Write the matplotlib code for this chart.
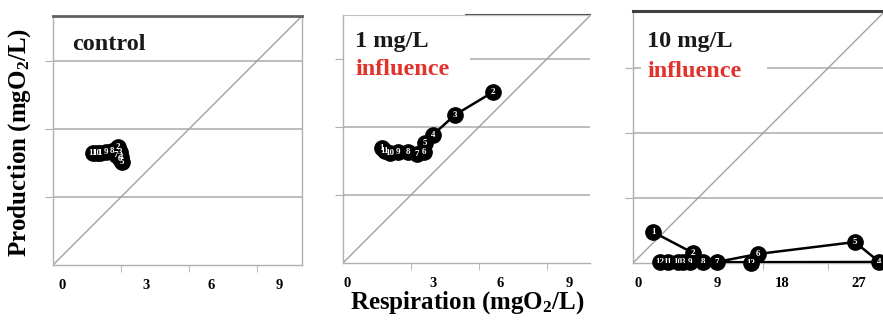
import matplotlib.pyplot as plt
from matplotlib.patches import Rectangle

plt.rcParams['font.family'] = ['Liberation Serif', 'DejaVu Serif']
plt.rcParams['font.weight'] = 'bold'
plt.rcParams['mathtext.default'] = 'regular'

# control panel (points numbered 1..11)
ctrl_resp = [2.07, 2.87, 2.95, 3.0, 3.04, 2.95, 2.78, 2.6, 2.34, 1.95, 1.76]
ctrl_prod = [4.94, 5.2, 4.98, 4.76, 4.54, 4.7, 4.85, 5.05, 4.98, 4.94, 4.94]

# 1 mg/L panel
mg1_resp = [1.72, 6.62, 4.94, 3.97, 3.62, 3.57, 3.26, 2.87, 2.43, 2.07, 1.85]
mg1_prod = [5.07, 7.54, 6.53, 5.65, 5.29, 4.9, 4.81, 4.9, 4.9, 4.85, 4.94]

# 10 mg/L panel
mg10_resp = [2.77, 8.31, 6.9, 34.1, 30.7, 17.3, 11.6, 9.7, 7.9, 6.2, 4.8, 3.7, 16.3]
mg10_prod = [4.29, 1.39, 0.1, 0.14, 2.9, 1.25, 0.14, 0.14, 0.14, 0.14, 0.14, 0.14, 0.05]

tick_labels_small = ['0', '3', '6', '9']
tick_labels_big = ['0', '9', '18', '27']

fig = plt.figure(figsize=(8.83, 3.25), dpi=100)

ax1 = fig.add_axes([0.0600, 0.1846, 0.2820, 0.7662])
ax2 = fig.add_axes([0.3884, 0.1908, 0.2797, 0.7631])
ax3 = fig.add_axes([0.7169, 0.1908, 0.2831, 0.7754])


def setup(ax, lim, step, label_pos, labels):
    ax.set_xlim(0, lim[0])
    ax.set_ylim(0, lim[1])
    ax.set_axisbelow(True)
    ax.set_xticks(label_pos, labels)
    ax.set_xticks([step, 2 * step, 3 * step], minor=True)
    ax.set_yticks([step, 2 * step, 3 * step])
    ax.set_yticklabels([])
    ax.tick_params(axis='x', which='major', length=0, pad=10, labelsize=10.5)
    ax.tick_params(axis='x', which='minor', length=5, color='#b0b0b0', direction='out')
    ax.tick_params(axis='y', length=6, color='#b0b0b0', direction='out')
    ax.yaxis.grid(True, color='#b8b8b8', linewidth=1.3)
    top = max(lim)
    ax.plot([0, top], [0, top], color='#a0a0a0', linewidth=1.0, zorder=1)
    for side in ['left', 'bottom', 'right']:
        ax.spines[side].set_color('#b0b0b0')
        ax.spines[side].set_linewidth(1.0)


def draw_series(ax, xs, ys, start=0):
    ax.plot(xs[start:], ys[start:], color='black', linewidth=1.8, zorder=3)
    ax.plot(xs, ys, 'o', color='black', markersize=11, zorder=3, clip_on=False)
    for i, (x, y) in enumerate(zip(xs, ys)):
        ax.text(x, y, str(i + 1), color='white', fontsize=6.5, ha='center',
                va='center', zorder=4, clip_on=True)


# control
setup(ax1, (10.99, 10.99), 3, [0.4, 4.1, 7.0, 10.0], tick_labels_small)
ax1.spines['top'].set_color('#606060')
ax1.spines['top'].set_linewidth(2.0)
draw_series(ax1, ctrl_resp, ctrl_prod)
ax1.text(0.076, 0.863, 'control', transform=ax1.transAxes, fontsize=17.5,
         color='#1a1a1a', zorder=6)

# 1 mg/L
setup(ax2, (10.9, 10.94), 3, [0.18, 3.97, 6.93, 9.97], tick_labels_small)
ax2.spines['right'].set_visible(False)
ax2.spines['top'].set_color('#c0c0c0')
ax2.axhline(10.94, xmin=0.5, xmax=1.0, color='#505050', linewidth=1.5, clip_on=False)
ax2.add_patch(Rectangle((0.0, 0.72), 0.514, 0.27, transform=ax2.transAxes,
                        facecolor='white', edgecolor='none', zorder=2))
draw_series(ax2, mg1_resp, mg1_prod, start=1)
ax2.text(0.049, 0.871, '1 mg/L', transform=ax2.transAxes, fontsize=17.5,
         color='#1a1a1a', zorder=6)
ax2.text(0.049, 0.758, 'influence', transform=ax2.transAxes, fontsize=17.5,
         color='#e2322c', zorder=6)

# 10 mg/L
setup(ax3, (34.6, 34.9), 9, [0.7, 11.6, 20.6, 31.2], tick_labels_big)
ax3.spines['right'].set_visible(False)
ax3.spines['top'].set_color('#404040')
ax3.spines['top'].set_linewidth(2.2)
ax3.add_patch(Rectangle((0.03, 0.72), 0.506, 0.27, transform=ax3.transAxes,
                        facecolor='white', edgecolor='none', zorder=2))
draw_series(ax3, mg10_resp, mg10_prod)
ax3.text(0.056, 0.857, '10 mg/L', transform=ax3.transAxes, fontsize=17.5,
         color='#1a1a1a', zorder=6)
ax3.text(0.056, 0.738, 'influence', transform=ax3.transAxes, fontsize=17.5,
         color='#e2322c', zorder=6)

fig.text(0.0227, 0.563, 'Production (mgO$_2$/L)', rotation=90, ha='center',
         va='center', fontsize=18)
fig.text(0.529, 0.068, 'Respiration (mgO$_2$/L)', ha='center', va='center',
         fontsize=18)

fig.savefig('out.png', dpi=100)
